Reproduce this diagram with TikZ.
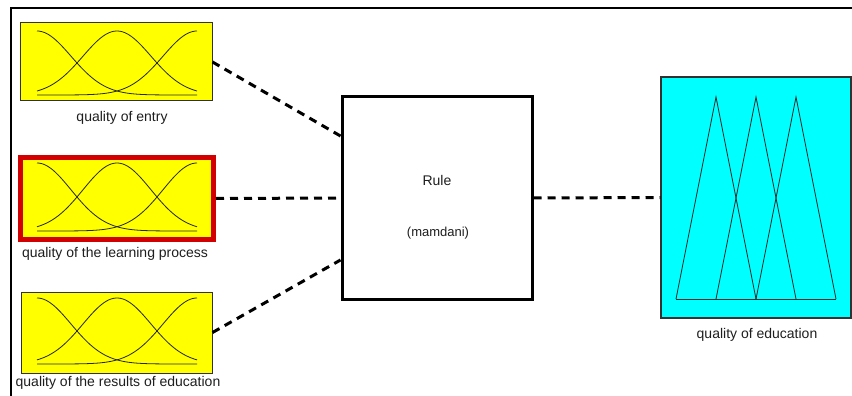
\documentclass[tikz,border=0pt]{standalone}
\usepackage{fontspec}
\setmainfont{Liberation Sans}
\definecolor{mfyellow}{RGB}{255,255,0}
\definecolor{mfcyan}{RGB}{0,255,255}
\definecolor{selred}{RGB}{210,0,0}
\definecolor{edgegray}{RGB}{50,50,50}
\definecolor{txt}{RGB}{30,30,30}
\newcommand\mfgauss[4]{% #1 left x, #2 baseline y, #3 height, #4 step
  \foreach \c in {0,1,2}{
    \draw[mfcurve] plot[domain=#1:#1+2*#4, samples=70, smooth]
      (\x, {#2-#3*exp(0-0.6931*((\x-#1-\c*#4)/(#4/2))*((\x-#1-\c*#4)/(#4/2)))});
  }}
\begin{document}
\begin{tikzpicture}[x=1pt, y=-1pt,
  inbox/.style={draw=edgegray, line width=1pt, fill=mfyellow, inner sep=0pt, minimum width=192pt, minimum height=78pt},
  selbox/.style={draw=selred, line width=5pt, fill=mfyellow, inner sep=0pt, minimum width=193pt, minimum height=82pt},
  rulebox/.style={draw=black, line width=3pt, fill=white, inner sep=0pt, minimum width=190pt, minimum height=202pt},
  outbox/.style={draw=edgegray, line width=1.2pt, fill=mfcyan, inner sep=0pt, minimum width=190pt, minimum height=241pt},
  lbl/.style={text=txt, font=\fontsize{14}{16}\selectfont, inner sep=0pt},
  mfcurve/.style={draw=black!85, line width=0.8pt},
  link/.style={draw=black, line width=3pt, dash pattern=on 8pt off 6pt}
]
\useasboundingbox (0,0) rectangle (852,396);
\fill[white] (0,0) rectangle (852,396);
% frame
\draw[line width=2pt] (11,396) -- (11,8) -- (852,8);

% input boxes
\node[inbox] (b1) at (116,62) {};
\node[selbox] (b2) at (117,198.5) {};
\node[inbox, minimum width=191pt, minimum height=81pt] (b3) at (116.5,332.5) {};
\mfgauss{37}{95}{64}{80}
\mfgauss{37}{231}{68}{80}
\mfgauss{37}{364}{66}{80}

\node[lbl] (l1) at (122,118) {quality of entry};
\node[lbl] (l2) at (115,254) {quality of the learning process};
\node[lbl] (l3) at (118,383) {quality of the results of education};

% rule box
\node[rulebox] (rule) at (437,198) {};
\node[lbl] (rt) at (437,180) {Rule};
\node[lbl, font=\fontsize{13}{15}\selectfont] (rm) at (438,233) {(mamdani)};

% output box
\node[outbox] (out) at (756,197.5) {};
\draw[mfcurve, line join=miter] (676,299) -- (716,97) -- (756,299);
\draw[mfcurve, line join=miter] (716,299) -- (756,97) -- (796,299);
\draw[mfcurve, line join=miter] (756,299) -- (796,97) -- (836,299);
\draw[mfcurve] (676,299) -- (836,299);
\node[lbl] (lo) at (757,335) {quality of education};

% connectors
\draw[link] (b1.east) -- ([yshift=62pt]rule.west);
\draw[link] (b2.east) -- (rule.west);
\draw[link] (b3.east) -- ([yshift=-62pt]rule.west);
\draw[link] (rule.east) -- (out.west);
\end{tikzpicture}
\end{document}
